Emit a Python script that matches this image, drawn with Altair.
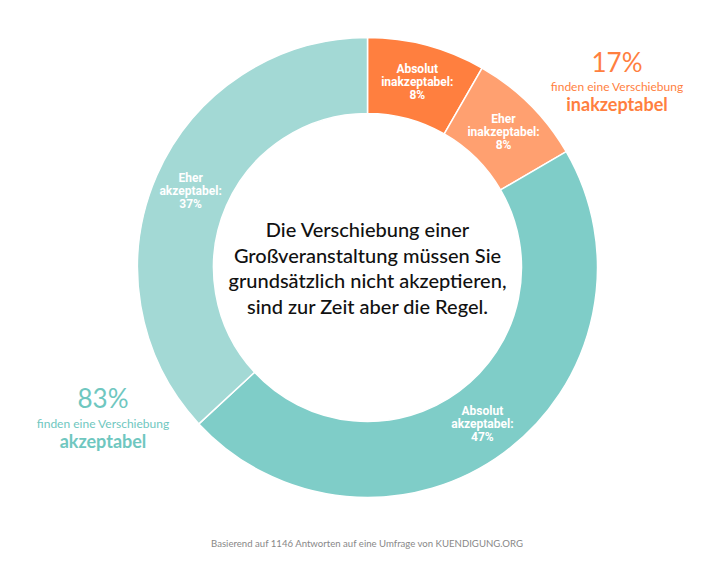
import altair as alt
import pandas as pd

categories = ["Absolut inakzeptabel", "Eher inakzeptabel", "Absolut akzeptabel", "Eher akzeptabel"]
values = [8.3, 8.3, 46.5, 36.9]
slice_labels = ["Absolut\ninakzeptabel:\n8%", "Eher\ninakzeptabel:\n8%", "Absolut\nakzeptabel:\n47%", "Eher\nakzeptabel:\n37%"]
colors = ["#FF7F3F", "#FFA070", "#7FCDC8", "#A3D9D5"]
order = [0, 1, 2, 3]

center_text = "Die Verschiebung einer\nGroßveranstaltung müssen Sie\ngrundsätzlich nicht akzeptieren,\nsind zur Zeit aber die Regel."
left_pct, left_sub, left_word = "83%", "finden eine Verschiebung", "akzeptabel"
right_pct, right_sub, right_word = "17%", "finden eine Verschiebung", "inakzeptabel"
footer = "Basierend auf 1146 Antworten auf eine Umfrage von KUENDIGUNG.ORG"

df = pd.DataFrame({"cat": categories, "value": values, "label": slice_labels, "order": order})

CX, CY = 367.5, 267.5
FONT = "Lato"

base = alt.Chart(df).encode(
    theta=alt.Theta("value:Q", stack=True),
    order=alt.Order("order:Q"),
    x=alt.value(CX),
    y=alt.value(CY),
)

arcs = base.mark_arc(innerRadius=154, outerRadius=230, stroke="white", strokeWidth=1.5).encode(
    color=alt.Color("cat:N", scale=alt.Scale(domain=categories, range=colors), legend=None)
)

labels = base.mark_text(radius=193, dy=-12, font="Roboto", fontWeight="bold", fontSize=12,
                        color="white", lineBreak="\n", lineHeight=13,
                        align="center", baseline="middle").encode(text="label:N")

def txt(s, x, y, size, color, weight="normal", font=FONT, lh=None):
    kw = dict(font=font, fontSize=size, color=color, fontWeight=weight,
              align="center", baseline="middle", lineBreak="\n")
    if lh:
        kw["lineHeight"] = lh
    return alt.Chart(pd.DataFrame({"t": [s]})).mark_text(**kw).encode(
        text="t:N", x=alt.value(x), y=alt.value(y))

center = txt(center_text, CX, 231, 20, "#111111", 500, lh=25.7)
l1 = txt(left_pct, 103, 400, 26, "#6FC7C0")
l2 = txt(left_sub, 103, 424, 12, "#6FC7C0")
l3 = txt(left_word, 103, 443, 18, "#6FC7C0", "bold")
r1 = txt(right_pct, 617, 64, 26, "#FF7F3F")
r2 = txt(right_sub, 617, 87, 12, "#FF7F3F")
r3 = txt(right_word, 617, 106, 18, "#FF7F3F", "bold")
foot = txt(footer, 367, 544, 9.6, "#888888")

chart = alt.layer(arcs, labels, center, l1, l2, l3, r1, r2, r3, foot).properties(
    width=720, height=576, autosize=alt.AutoSizeParams(type="none"), padding=0,
    background="white"
).configure_view(stroke=None)

chart.save("out.html", embed_options={"renderer": "svg", "actions": False})
